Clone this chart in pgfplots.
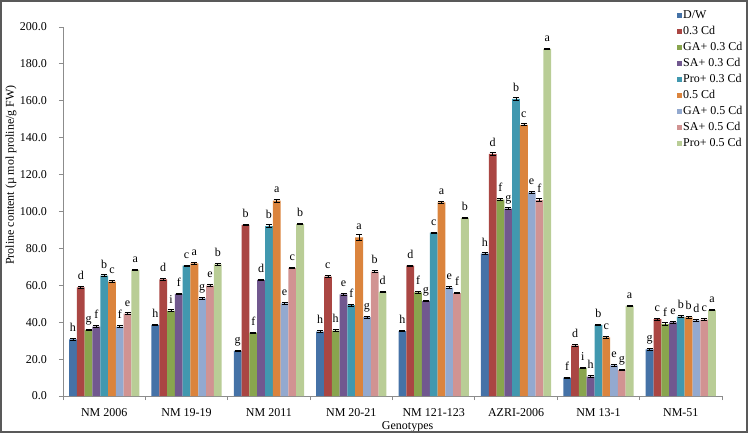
\documentclass[border=0pt]{standalone}
\usepackage{pgfplots}
\pgfplotsset{compat=1.18}
\usepackage{pgfplotstable}
\usepackage{fontspec}
\setmainfont{Liberation Serif}
\newcommand\f{\fontsize{12bp}{14.4bp}\selectfont}
\definecolor{c1}{HTML}{4572A7}
\definecolor{c2}{HTML}{AA4643}
\definecolor{c3}{HTML}{89A54E}
\definecolor{c4}{HTML}{71588F}
\definecolor{c5}{HTML}{4198AF}
\definecolor{c6}{HTML}{DB843D}
\definecolor{c7}{HTML}{93A9CF}
\definecolor{c8}{HTML}{D19392}
\definecolor{c9}{HTML}{B9CD96}
\definecolor{axgray}{HTML}{8C8C8C}

\pgfplotstableread{
x y e l
0 30.7 0.5 h
1 38.5 0.5 h
2 24.4 0.5 g
3 34.9 0.4 h
4 35.2 0.4 h
5 77.1 0.5 h
6 9.9 0.4 f
7 25.3 0.4 g
}\tdw
\pgfplotstableread{
x y e l
0 58.9 0.5 d
1 63.2 0.4 d
2 92.7 0.5 b
3 64.7 0.4 c
4 70.6 0.4 d
5 131.2 0.8 d
6 27.3 0.4 d
7 41.7 0.5 c
}\tcda
\pgfplotstableread{
x y e l
0 35.8 0.5 g
1 46.2 0.5 i
2 34.3 0.4 f
3 35.4 0.4 h
4 56.2 0.5 f
5 106.4 0.5 f
6 15.3 0.4 i
7 39.0 0.6 f
}\tgaa
\pgfplotstableread{
x y e l
0 37.6 0.5 f
1 55.3 0.4 f
2 62.9 0.5 d
3 55.1 0.5 e
4 51.5 0.4 g
5 101.5 0.5 g
6 10.5 0.4 h
7 39.9 0.4 e
}\tsaa
\pgfplotstableread{
x y e l
0 65.2 0.6 b
1 70.6 0.4 c
2 92.1 0.8 b
3 49.2 0.4 f
4 88.5 0.4 c
5 161.0 0.8 b
6 38.6 0.4 b
7 43.0 0.5 b
}\tproa
\pgfplotstableread{
x y e l
0 62.0 0.5 c
1 71.9 0.4 a
2 105.9 0.8 a
3 86.0 1.5 a
4 105.0 0.4 a
5 147.0 0.5 c
6 31.8 0.4 c
7 42.6 0.4 b
}\tcdb
\pgfplotstableread{
x y e l
0 37.6 0.4 f
1 52.9 0.4 g
2 50.2 0.4 e
3 42.7 0.4 g
4 58.7 0.5 e
5 110.4 0.6 e
6 16.6 0.4 e
7 41.0 0.4 d
}\tgab
\pgfplotstableread{
x y e l
0 44.6 0.5 e
1 59.8 0.4 e
2 69.5 0.4 c
3 67.4 0.4 b
4 55.8 0.4 f
5 106.2 0.8 f
6 14.1 0.5 g
7 41.4 0.5 c
}\tsab
\pgfplotstableread{
x y e l
0 68.3 0.4 a
1 71.4 0.4 b
2 93.2 0.4 b
3 56.4 0.4 d
4 96.5 0.4 b
5 188.1 0.4 a
6 48.9 0.4 a
7 46.6 0.5 a
}\tprob

\begin{document}
\begin{tikzpicture}
\begin{axis}[
  at={(0,0)}, anchor=south west,
  scale only axis, width=659bp, height=369bp,
  ybar=0pt, bar width=7.8bp,
  xmin=-0.5, xmax=7.5, ymin=0, ymax=200,
  clip=false,
  axis lines*=left,
  axis line style={draw=axgray, line width=0.8bp},
  tick style={draw=axgray, line width=0.8bp},
  tick align=outside, major tick length=4bp,
  xtick={-0.5,0.5,...,7.5},
  x tick label as interval,
  xticklabels={NM 2006, NM 19-19, NM 2011, NM 20-21, NM 121-123, AZRI-2006, NM 13-1, NM-51},
  ytick={0,20,...,200},
  /pgf/number format/assume math mode=true,
  yticklabel style={/pgf/number format/.cd, fixed, fixed zerofill, precision=1, /tikz/.cd, font=\f, anchor=east, inner sep=0pt, xshift=-12bp},
  xticklabel style={font=\f, anchor=base, inner sep=0pt, yshift=-16.5bp},
  xlabel={Genotypes},
  ylabel={Proline content (µ mol proline/g FW)},
  every axis x label/.style={at={(axis description cs:0.523,0)}, anchor=base, inner sep=0pt, yshift=-33bp, font=\f},
  every axis y label/.style={at={(axis description cs:-0.0789,0.599)}, anchor=center, rotate=90, font=\f},
  point meta=explicit symbolic,
  nodes near coords,
  every node near coord/.append style={font=\f, inner sep=0pt, text depth=0pt, yshift=7.5bp, black},
  error bars/y dir=both,
  error bars/y explicit,
  error bars/error bar style={black, line width=0.6bp},
  error bars/error mark options={black, mark size=3bp, line width=0.9bp, rotate=90},
  legend style={at={(axis description cs:0.9317,1.050)}, anchor=north west, draw=none, fill=none, inner sep=0pt, row sep=3bp, nodes={font=\f, inner sep=1bp, text height=8.5bp, text depth=2.5bp}},
  legend cell align=left,
  every axis plot/.append style={draw=none, legend image code/.code={\fill[##1] (0bp,-2.5bp) rectangle (5bp,2.5bp);}},
]
\addplot[fill=c1] table[x=x,y=y,y error=e,meta=l]{\tdw};
\addplot[fill=c2] table[x=x,y=y,y error=e,meta=l]{\tcda};
\addplot[fill=c3] table[x=x,y=y,y error=e,meta=l]{\tgaa};
\addplot[fill=c4] table[x=x,y=y,y error=e,meta=l]{\tsaa};
\addplot[fill=c5] table[x=x,y=y,y error=e,meta=l]{\tproa};
\addplot[fill=c6] table[x=x,y=y,y error=e,meta=l]{\tcdb};
\addplot[fill=c7] table[x=x,y=y,y error=e,meta=l]{\tgab};
\addplot[fill=c8] table[x=x,y=y,y error=e,meta=l]{\tsab};
\addplot[fill=c9] table[x=x,y=y,y error=e,meta=l]{\tprob};
\legend{D/W, 0.3 Cd, GA+ 0.3 Cd, SA+ 0.3 Cd, Pro+ 0.3 Cd, 0.5 Cd, GA+ 0.5 Cd, SA+ 0.5 Cd, Pro+ 0.5 Cd}
\end{axis}
\pgfresetboundingbox
\useasboundingbox (-63bp,-38bp) rectangle (686bp,396bp);
\draw[draw=gray!70!black, line width=1.2bp] (-62bp,-36bp) rectangle (684bp,395bp);
\end{tikzpicture}
\end{document}
